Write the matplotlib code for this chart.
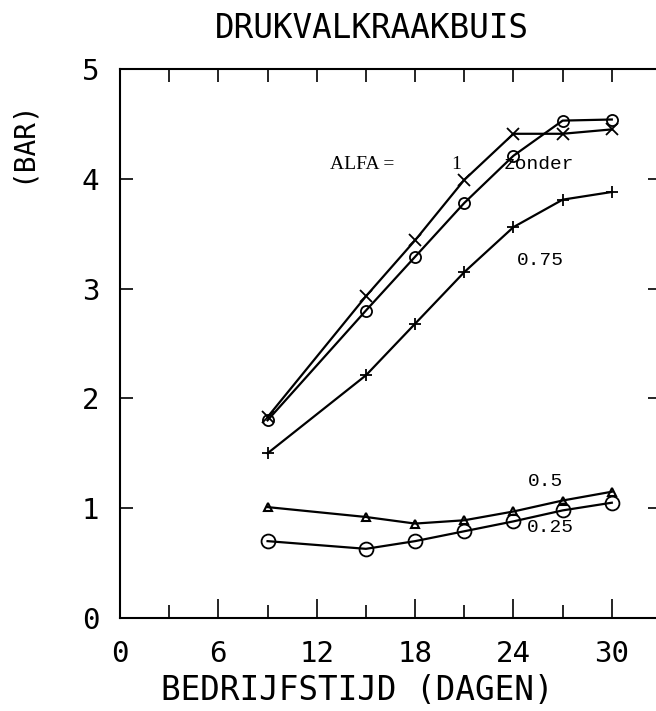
import matplotlib
matplotlib.use("Agg")
import matplotlib.pyplot as plt
from matplotlib.ticker import MultipleLocator

# Operating time (days) and pressure drop (bar) per ALFA setting
days = [9, 15, 18, 21, 24, 27, 30]
alfa_1 = [1.83, 2.93, 3.44, 3.99, 4.41, 4.41, 4.45]
zonder = [1.80, 2.80, 3.29, 3.78, 4.21, 4.53, 4.54]
alfa_075 = [1.50, 2.21, 2.68, 3.15, 3.56, 3.81, 3.88]
alfa_05 = [1.01, 0.92, 0.86, 0.89, 0.97, 1.07, 1.15]
alfa_025 = [0.70, 0.63, 0.70, 0.79, 0.88, 0.98, 1.05]

x_ticks = [0, 6, 12, 18, 24, 30]
y_ticks = [0, 1, 2, 3, 4, 5]

W, H = 656, 711
fig = plt.figure(figsize=(W / 100, H / 100), dpi=100)
left, right, top, bottom = 120, 661, 69, 618
ax = fig.add_axes([left / W, 1 - bottom / H, (right - left) / W, (bottom - top) / H])
ax.set_xlim(0, 33)
ax.set_ylim(0, 5)

plot_font = "DejaVu Sans Mono"
lw = 1.6
ax.plot(days, alfa_1, color="black", lw=lw, marker="x", ms=9, mew=1.3)
ax.plot(days, zonder, color="black", lw=lw, marker="o", ms=8, mfc="none", mew=1.3)
ax.plot(days, alfa_075, color="black", lw=lw, marker="+", ms=9, mew=1.3)
ax.plot(days, alfa_05, color="black", lw=lw, marker="^", ms=6, mfc="none", mew=1.5)
ax.plot(days, alfa_025, color="black", lw=lw, marker="o", ms=10, mfc="none", mew=1.3)

for s in ax.spines.values():
    s.set_linewidth(1.5)

# bottom axis: long ticks at labelled days, short ticks in between
ax.set_xticks(x_ticks)
ax.xaxis.set_minor_locator(MultipleLocator(3))
ax.tick_params(axis="x", which="major", direction="in", length=13.5, width=1.2,
               top=False, pad=16, labelsize=21)
ax.tick_params(axis="x", which="minor", direction="in", length=9.4, width=1.2, top=False)
top_ax = ax.secondary_xaxis("top")
top_ax.set_xticks(list(range(0, 34, 3)))
top_ax.tick_params(direction="in", length=9.4, width=1.2, labeltop=False)
top_ax.spines["top"].set_visible(False)

ax.set_yticks(y_ticks)
ax.tick_params(axis="y", which="major", direction="in", length=9.4, width=1.2,
               right=True, pad=15, labelsize=21)
for lab in ax.get_xticklabels() + ax.get_yticklabels():
    lab.set_family(plot_font)

fig.text(372 / W, 1 - 28 / H, "DRUKVALKRAAKBUIS", ha="center", va="center",
         family=plot_font, fontsize=23.5)
fig.text(357 / W, 1 - 690 / H, "BEDRIJFSTIJD (DAGEN)", ha="center", va="center",
         family=plot_font, fontsize=23.5)
fig.text(22 / W, 1 - 141 / H, "(BAR)", ha="center", va="center", rotation=90,
         family=plot_font, fontsize=20)

ann = dict(color="black", va="center", ha="left")
ax.text(12.8, 4.13, "ALFA =", family="Liberation Serif", fontsize=14, **ann)
ax.text(20.2, 4.13, "1", family="Liberation Serif", fontsize=14, **ann)
ax.text(23.4, 4.13, "zonder", family="Liberation Mono", fontsize=14, **ann)
ax.text(24.2, 3.26, "0.75", family="Liberation Mono", fontsize=14, **ann)
ax.text(24.9, 1.24, "0.5", family="Liberation Mono", fontsize=14, **ann)
ax.text(24.8, 0.82, "0.25", family="Liberation Mono", fontsize=14, **ann)

fig.savefig("out.png", dpi=100)
